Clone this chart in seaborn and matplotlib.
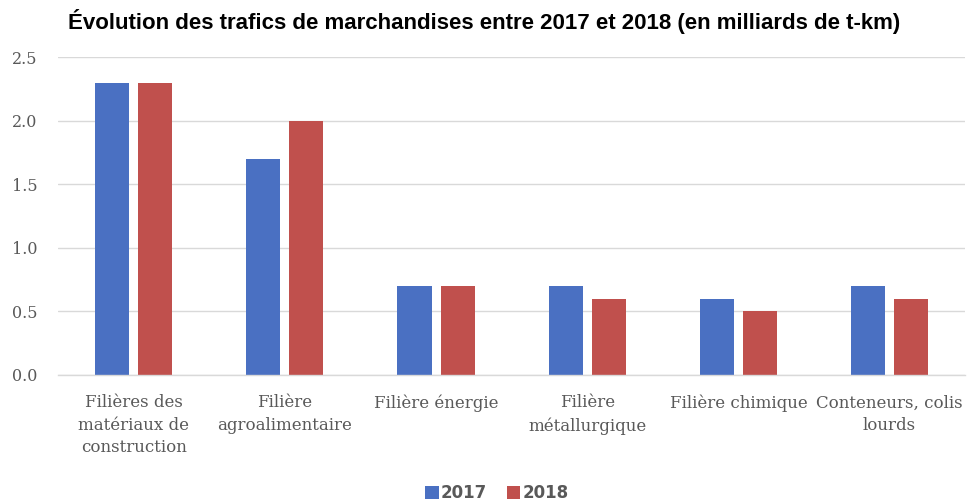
import matplotlib
matplotlib.use("Agg")
import matplotlib.pyplot as plt
import seaborn as sns
import pandas as pd

categories = [
    "Filières des\nmatériaux de\nconstruction",
    "Filière\nagroalimentaire",
    "Filière énergie",
    "Filière\nmétallurgique",
    "Filière chimique",
    "Conteneurs, colis\nlourds",
]
years = ["2017", "2018"]
values_2017 = [2.3, 1.7, 0.7, 0.7, 0.6, 0.7]
values_2018 = [2.3, 2.0, 0.7, 0.6, 0.5, 0.6]
y_ticks = [0.0, 0.5, 1.0, 1.5, 2.0, 2.5]

df = pd.DataFrame({
    "Filière": categories * 2,
    "Année": [years[0]] * len(categories) + [years[1]] * len(categories),
    "Trafic": values_2017 + values_2018,
})

sns.set_theme(style="white")
palette = {"2017": "#4A70C2", "2018": "#C0504D"}
grey = "#595959"
serif = ["DejaVu Serif"]

fig = plt.figure(figsize=(9.69, 5.01), dpi=100)
ax = fig.add_axes([0.06, 0.2515, 0.936, 0.6345])

sns.barplot(data=df, x="Filière", y="Trafic", hue="Année", order=categories,
            hue_order=years, palette=palette, width=0.57, gap=0.21,
            saturation=1, linewidth=0, ax=ax, legend=True)

ax.set_ylim(0, 2.5)
ax.set_yticks(y_ticks)
ax.set_yticklabels([f"{v:.1f}" for v in y_ticks], fontfamily=serif,
                   fontsize=11.5, color=grey)
ax.set_xlim(-0.5, len(categories) - 0.5)
for lab in ax.get_xticklabels():
    lab.set_fontfamily(serif)
    lab.set_fontsize(12)
    lab.set_color(grey)
    lab.set_linespacing(1.42)
ax.set_xlabel("")
ax.set_ylabel("")
ax.tick_params(axis="x", length=0, pad=14)
ax.tick_params(axis="y", length=0, pad=15)

ax.yaxis.grid(True, color="#D9D9D9", linewidth=1)
ax.set_axisbelow(True)
for side in ["top", "right", "left"]:
    ax.spines[side].set_visible(False)
ax.spines["bottom"].set_color("#D9D9D9")
ax.spines["bottom"].set_linewidth(1)

fig.text(0.5, 1 - 22 / 501,
         "Évolution des trafics de marchandises entre 2017 et 2018 (en milliards de t-km)",
         ha="center", va="center", fontsize=16, fontweight="bold",
         fontfamily="Liberation Sans", color="black")

handles, labels = ax.get_legend_handles_labels()
ax.get_legend().remove()
leg = fig.legend(handles, labels, loc="center", bbox_to_anchor=(497 / 969, 1 - 493 / 501),
                 ncol=2, frameon=False, handlelength=0.8, handleheight=0.8,
                 handletextpad=0.12, columnspacing=1.2,
                 prop={"family": "DejaVu Sans", "size": 12, "weight": "bold"})
for t in leg.get_texts():
    t.set_color(grey)

fig.savefig("out.png", dpi=100)
